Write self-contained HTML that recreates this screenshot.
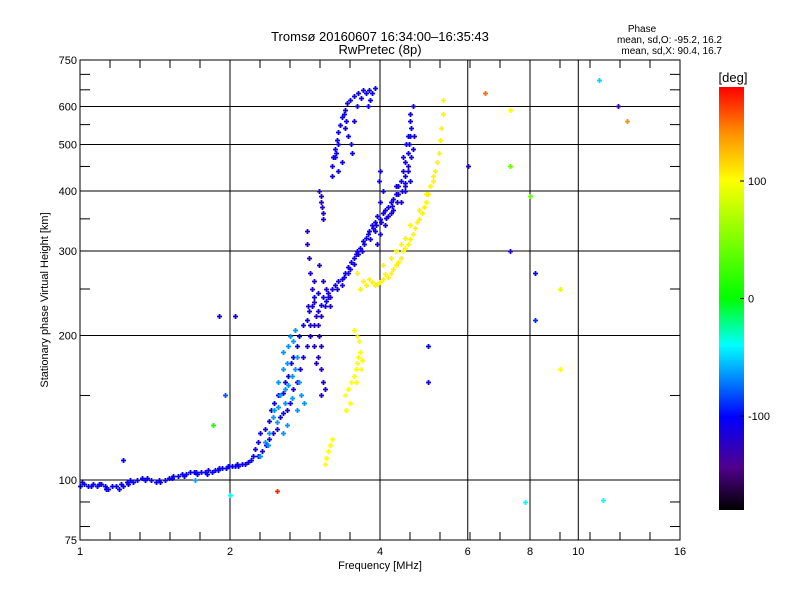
<!DOCTYPE html>
<html><head><meta charset="utf-8"><style>
body{margin:0;background:#fff;}
svg text{font-family:"Liberation Sans",sans-serif;fill:#000;}
</style></head><body>
<svg id="c" width="800" height="600" xmlns="http://www.w3.org/2000/svg">
<defs><linearGradient id="cb" x1="0" y1="1" x2="0" y2="0">
<stop offset="0" stop-color="#000"/><stop offset="0.1" stop-color="#50008c"/><stop offset="0.22" stop-color="#0000ff"/>
<stop offset="0.39" stop-color="#00ffff"/><stop offset="0.5" stop-color="#00ff00"/><stop offset="0.78" stop-color="#ffff00"/>
<stop offset="0.89" stop-color="#ff9000"/><stop offset="1" stop-color="#ff0000"/></linearGradient></defs>
<text x="380" y="41" font-size="13" text-anchor="middle">Tromsø 20160607 16:34:00–16:35:43</text>
<text x="380" y="54" font-size="13" text-anchor="middle">RwPretec (8p)</text>
<text x="642" y="32" font-size="10" text-anchor="middle">Phase</text>
<text x="722" y="43" font-size="10" text-anchor="end">mean, sd,O: -95.2, 16.2</text>
<text x="722" y="54" font-size="10" text-anchor="end">mean, sd,X: 90.4, 16.7</text>
<g id="grid"></g><g id="pts"></g><g id="axes"></g>
<text x="380" y="569" font-size="11" text-anchor="middle">Frequency [MHz]</text>
<text transform="translate(48,300) rotate(-90)" font-size="11" text-anchor="middle">Stationary phase Virtual Height [km]</text>
<rect x="719" y="87" width="25" height="423" fill="url(#cb)"/>
<text x="733" y="82" font-size="13" text-anchor="middle">[deg]</text>
<g id="cbt"></g>
</svg>
<script>
const xTicks=[1,2,4,6,8,10,16];
const xGrid=[2,4,6,8,10];
const yTicks=[75,100,200,300,400,500,600,750];
const yMinor=[80,90,150,250,350,450,550,650,700];
const yGrid=[100,200,300,400,500,600];
const cbTicks=[100,0,-100];
// ground / low E trace
const groundF=[1.00,1.02,1.04,1.06,1.08,1.10,1.12,1.14,1.16,1.18,1.20,1.22,1.24,1.26,1.28,1.30,1.33,1.36,1.39,1.42,1.45,1.48,1.51,1.54,1.57,1.60,1.63,1.66,1.69,1.72,1.75,1.78,1.81,1.84,1.87,1.90,1.93,1.96,1.99,2.02,2.05,2.08,2.11,2.14,2.17,2.20,1.01,1.05,1.09,1.13,1.21,1.25,1.35,1.44,1.53,1.62,1.71,1.80,1.89,1.98,2.07];
const groundH=[97,98,97,98,97,98,97,96,97,97,96,97,99,100,99,100,101,101,100,99,99,100,101,102,102,103,103,104,104,103,104,104,105,104,105,106,106,106,107,107,107,107,108,108,109,110,99,97,98,96,98,98,100,100,101,102,104,103,105,107,108];
// main O trace
const oF=[2.22,2.25,2.28,2.30,2.35,2.40,2.42,2.45,2.50,2.55,2.58,2.62,2.65,2.68,2.72,2.75,2.80,2.85,2.88,2.92,2.95,3.00,3.05,3.08,3.12,3.15,3.20,3.25,3.30,3.35,3.40,3.45,3.50,3.55,3.60,3.65,3.70,3.75,3.80,3.85,3.90,3.95,4.00,4.05,4.10,4.15,4.20,4.25,4.30,4.35,4.40,4.45,4.50,4.55,4.58,4.60,4.62,4.60,4.65,4.60,4.50,4.40,4.20,4.10,4.00,3.95,3.90,4.30,4.45,4.52,4.55,4.48,4.00,4.05,3.98,4.00];
const oH=[112,116,120,125,128,133,140,145,150,152,160,165,175,180,190,200,210,215,225,230,240,245,232,240,236,245,250,255,260,262,270,278,285,290,300,305,315,320,330,340,345,355,350,360,365,370,380,385,395,410,420,440,460,480,500,520,540,560,600,420,400,380,360,340,325,310,330,410,470,500,520,430,380,400,420,440];
// O trace spread
const o2F=[3.35,3.45,3.55,3.62,3.72,3.82,3.92,4.02,4.12,4.22,4.32,4.42,4.50,4.56,4.62,4.66,4.68,4.60,4.55,4.48,4.35,4.25,4.15,3.88,3.78,3.68,3.58,3.48,3.38,3.28,3.18,3.10,3.00,2.95,2.90,2.85,2.80,2.76,2.72,2.68,2.64,2.60,2.56,2.52,2.48,2.44,2.40,2.36,2.32,2.28];
const o2H=[255,270,282,295,310,318,340,345,352,372,380,400,410,450,470,490,520,580,440,415,395,365,355,335,325,300,295,275,265,250,240,230,225,210,200,190,180,170,160,155,145,140,138,135,128,125,122,118,115,112];
// left scattered branch
const bF=[2.85,2.85,2.88,2.90,2.92,2.95,2.98,3.00,3.02,3.05,3.00,2.98,3.05,3.08,3.10,3.05,2.95,2.90,2.87,2.95,3.02,3.08,3.12,3.15,3.18,3.05,3.02,3.04,3.06,3.08,3.05,3.07];
const bH=[330,310,290,270,250,235,220,210,200,190,180,175,170,160,155,150,190,210,230,260,280,260,250,240,230,220,400,380,370,360,390,350];
// cyan lower scatter
const cF=[2.45,2.50,2.55,2.60,2.52,2.58,2.62,2.66,2.70,2.56,2.62,2.68,2.72,2.75,2.78,2.82,2.72,2.66,2.40,2.35,2.48,2.64,2.70,2.60,2.55,2.30,2.38,2.44,2.50,2.58];
const cH=[140,160,170,175,150,145,158,165,170,185,190,195,180,160,150,145,140,148,125,120,132,200,205,130,125,112,118,135,142,155];
// upper hook
const hF=[3.20,3.22,3.25,3.28,3.30,3.33,3.36,3.40,3.44,3.48,3.55,3.62,3.70,3.80,3.85,3.82,3.78,3.40,3.45,3.50,3.52,3.35,3.30,3.25,3.20,3.30,3.38,3.55,3.60,3.66,3.75,3.90,3.27,3.42];
const hH=[450,470,490,510,530,550,570,590,610,620,630,640,650,650,640,620,600,540,520,500,480,460,440,470,430,500,580,560,600,625,640,655,480,560];
// X trace
const xF=[3.70,3.75,3.80,3.85,3.90,3.95,4.00,4.05,4.10,4.15,4.20,4.25,4.30,4.35,4.40,4.45,4.50,4.55,4.60,4.65,4.70,4.75,4.80,4.85,4.90,4.95,5.00,5.05,5.10,5.15,5.20,5.25,5.28,5.30,5.35,5.35,4.05,4.20,4.40,4.60,3.60,3.65,4.80,4.95,5.10,4.50,4.30];
const xH=[260,255,262,258,255,256,258,262,268,265,270,275,280,285,290,300,305,310,318,325,335,345,350,360,370,380,395,410,430,440,460,480,510,540,580,620,280,290,310,340,270,250,365,395,420,320,300];
const ylF=[3.40,3.45,3.50,3.55,3.58,3.60,3.62,3.65,3.63,3.60,3.55,3.58,3.48,3.42,3.66,3.68,3.10,3.12,3.15,3.18,3.20];
const ylH=[150,155,160,165,170,175,180,185,195,200,205,160,145,140,170,178,108,111,115,118,122];
// sparse noise
const nF=[6.5,7.3,12.0,12.5,11.0,6.0,7.3,8.0,7.3,8.2,8.2,9.2,9.2,5.0,5.0,7.8,11.2,2.0,2.48,1.9,2.05,1.95,1.85,1.22,1.7];
const nH=[640,590,600,560,680,450,450,390,300,270,215,250,170,190,160,90,91,93,95,220,220,150,130,110,100];
const nP=[150,100,-130,140,-50,-120,40,40,-120,-100,-90,90,100,-100,-110,-40,-40,-40,170,-110,-110,-80,10,-100,-60];
const series=[[groundF,groundH,-105],[oF,oH,-108],[o2F,o2H,-112],[bF,bH,-118],[cF,cH,-65],[hF,hH,-106],[xF,xH,105],[ylF,ylH,100]];
const NS="http://www.w3.org/2000/svg";
const X=f=>80+150*Math.log2(f);
const Y=h=>480-480*Math.log10(h/100);
const CB=p=>510-(p+180)/360*423;
function col(p){const t=(p+180)/360;const s=[[0,0,0,0],[0.1,80,0,140],[0.22,0,0,255],[0.39,0,255,255],[0.5,0,255,0],[0.78,255,255,0],[0.89,255,144,0],[1,255,0,0]];
for(let i=1;i<s.length;i++){if(t<=s[i][0]){const a=s[i-1],b=s[i],u=(t-a[0])/(b[0]-a[0]);return `rgb(${Math.round(a[1]+u*(b[1]-a[1]))},${Math.round(a[2]+u*(b[2]-a[2]))},${Math.round(a[3]+u*(b[3]-a[3]))})`;}}return "red";}
function mk(tag,at,par){const e=document.createElementNS(NS,tag);for(const k in at)e.setAttribute(k,at[k]);document.getElementById(par).appendChild(e);return e;}
const L=80,R=680,T=60,B=540;
xGrid.forEach(v=>{const e=mk('line',{x1:X(v),x2:X(v),y1:T,y2:B,stroke:'#000','stroke-width':1},'grid');

});
yGrid.forEach(v=>{const e=mk('line',{x1:L,x2:R,y1:Y(v),y2:Y(v),stroke:'#000','stroke-width':1},'grid');

});
function pt(f,h,p){const x=Math.round(X(f)),y=Math.round(Y(h));const e=mk('path',{d:`M${x-2},${y+.5}h5M${x+.5},${y-2}v5`,stroke:col(p),'stroke-width':1.8},'pts');

}
series.forEach(s=>{s[0].forEach((f,i)=>pt(f,s[1][i],s[2]));});
nF.forEach((f,i)=>pt(f,nH[i],nP[i]));
const fr=mk('rect',{x:L,y:T,width:R-L,height:B-T,fill:'none',stroke:'#000','stroke-width':1},'axes');


for(let k=0;k<=20;k++){const x=L+30*k;mk('line',{x1:x,x2:x,y1:B,y2:B-8,stroke:'#000'},'axes');mk('line',{x1:x,x2:x,y1:T,y2:T+8,stroke:'#000'},'axes');}
xTicks.forEach(v=>{const e=mk('text',{x:X(v),y:B+15,'font-size':11,'text-anchor':'middle'},'axes');e.textContent=v;

});
yTicks.concat(yMinor).forEach(v=>{mk('line',{x1:L,x2:L+10,y1:Y(v),y2:Y(v),stroke:'#000'},'axes');mk('line',{x1:R,x2:R-10,y1:Y(v),y2:Y(v),stroke:'#000'},'axes');});
yTicks.forEach(v=>{const e=mk('text',{x:L-3,y:Y(v)+4,'font-size':11,'text-anchor':'end'},'axes');e.textContent=v;

});
cbTicks.forEach(v=>{mk('line',{x1:744,x2:740,y1:CB(v),y2:CB(v),stroke:'#000'},'cbt');const e=mk('text',{x:748,y:CB(v)+4,'font-size':11},'cbt');e.textContent=v;

});
</script>
</body></html>
